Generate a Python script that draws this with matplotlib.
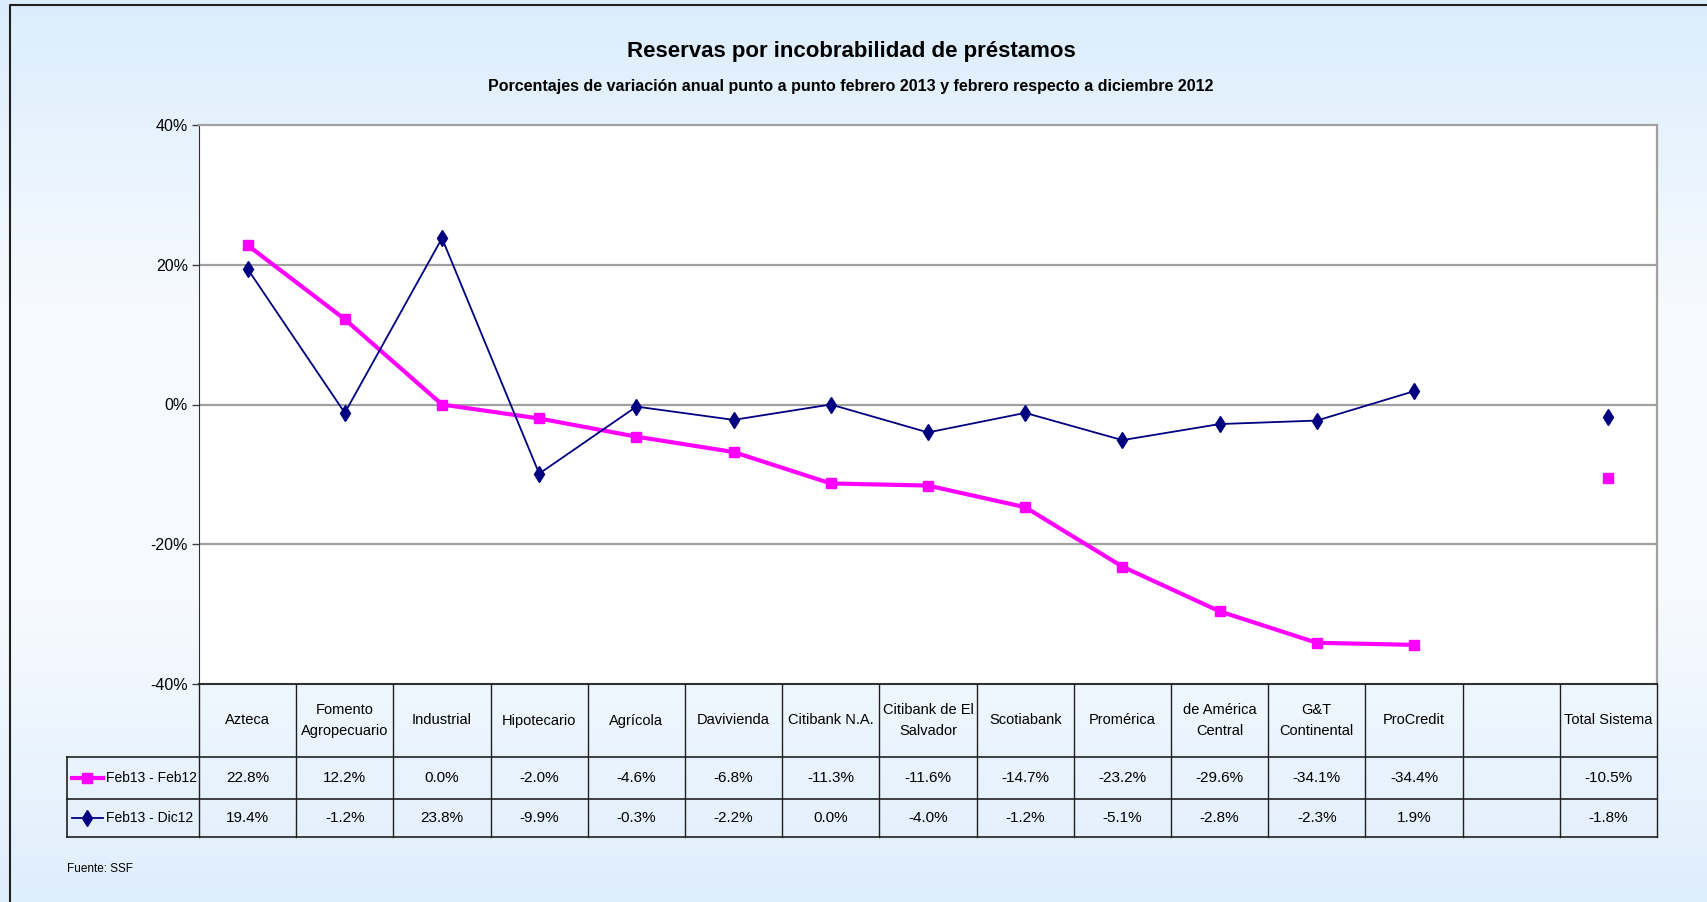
import matplotlib

matplotlib.use("Agg")
import matplotlib.pyplot as plt
import numpy as np
from matplotlib.colors import LinearSegmentedColormap
from matplotlib.lines import Line2D

plt.rcParams["font.family"] = ["Liberation Sans Narrow", "Liberation Sans", "DejaVu Sans"]

# --- data ---
categories = ["Azteca", "Fomento\nAgropecuario", "Industrial", "Hipotecario", "Agrícola",
              "Davivienda", "Citibank N.A.", "Citibank de El\nSalvador", "Scotiabank",
              "Promérica", "de América\nCentral", "G&T\nContinental", "ProCredit", "",
              "Total Sistema"]
feb_feb = [22.8, 12.2, 0.0, -2.0, -4.6, -6.8, -11.3, -11.6, -14.7, -23.2, -29.6, -34.1,
           -34.4, np.nan, -10.5]
feb_dic = [19.4, -1.2, 23.8, -9.9, -0.3, -2.2, 0.0, -4.0, -1.2, -5.1, -2.8, -2.3,
           1.9, np.nan, -1.8]
series_names = ["Feb13 - Feb12", "Feb13 - Dic12"]
y_ticks = [-40, -20, 0, 20, 40]

PINK = "#FF00FF"
NAVY = "#000080"
W, H = 1707, 902

fig = plt.figure(figsize=(W / 100, H / 100), dpi=100)

# background gradient + frame
bg = fig.add_axes([0, 0, 1, 1], zorder=-5)
cmap = LinearSegmentedColormap.from_list("bg", ["#DBEDFC", "#F6FAFF", "#F6FAFF", "#DFEEFC"])
bg.imshow(np.linspace(0, 1, 256).reshape(-1, 1), aspect="auto", cmap=cmap,
          extent=[0, 1, 0, 1])
bg.plot([10 / W, 10 / W, 1.01], [-0.01, 1 - 5 / H, 1 - 5 / H], color="#202020", lw=1.5)
bg.set_xlim(0, 1)
bg.set_ylim(0, 1)
bg.axis("off")


def px_rect(x0, y0, x1, y1):
    return [x0 / W, 1 - y1 / H, (x1 - x0) / W, (y1 - y0) / H]


# --- main chart ---
ax = fig.add_axes(px_rect(199, 125, 1657, 684))
ax.set_facecolor("white")
n = len(categories)
x = np.arange(n)
ax.plot(x, feb_feb, color=PINK, lw=3, marker="s", ms=7, mec=PINK, zorder=4)
ax.plot(x, feb_dic, color=NAVY, lw=1.3, marker="d", ms=8, mec=NAVY, zorder=5)
ax.set_xlim(-0.5, n - 0.5)
ax.set_ylim(-40, 40)
ax.set_yticks(y_ticks)
ax.set_yticklabels([f"{v}%" for v in y_ticks], fontsize=11.5)
ax.set_xticks([])
ax.tick_params(axis="y", length=5, width=1, color="#404040", pad=3)
for v in [-20, 0, 20]:
    ax.axhline(v, color="#A0A0A0", lw=1.6, zorder=1)
ax.spines["top"].set_color("#A0A0A0")
ax.spines["right"].set_color("#A0A0A0")
ax.spines["top"].set_linewidth(1.6)
ax.spines["right"].set_linewidth(1.6)
ax.spines["left"].set_color("#303030")
ax.spines["bottom"].set_color("#303030")
ax.spines["bottom"].set_linewidth(1.5)

fig.text(851 / W, 1 - 51 / H, "Reservas por incobrabilidad de préstamos",
         ha="center", va="center", fontsize=16, fontweight="bold")
fig.text(851 / W, 1 - 86 / H,
         "Porcentajes de variación anual punto a punto febrero 2013 y febrero respecto a diciembre 2012",
         ha="center", va="center", fontsize=11.5, fontweight="bold")

# --- data table under the chart ---
col_px = (1657 - 199) / n
label_w = (199 - 67) / col_px
tb = fig.add_axes(px_rect(67, 684, 1657, 837))
tb.set_xlim(-0.5 - label_w, n - 0.5)
tb.set_ylim(0, 153)
tb.axis("off")
tb.patch.set_visible(False)
rows = [0, 38, 80, 153]
lc = "#202020"
for yy in rows[:3]:
    tb.plot([-0.5 - label_w, n - 0.5], [yy, yy], color=lc, lw=1.2, clip_on=False)
tb.plot([-0.5 - label_w] * 2, [0, 80], color=lc, lw=1.2, clip_on=False)
for k in range(n + 1):
    tb.plot([k - 0.5] * 2, [0, 153], color=lc, lw=1.0, clip_on=False)

for i, cat in enumerate(categories):
    tb.text(i, (rows[2] + rows[3]) / 2, cat, ha="center", va="center", fontsize=10.5,
            linespacing=1.7)
for vals, (y0, y1) in [(feb_feb, (rows[1], rows[2])), (feb_dic, (rows[0], rows[1]))]:
    for i, v in enumerate(vals):
        if np.isnan(v):
            continue
        tb.text(i, (y0 + y1) / 2, f"{v:.1f}%", ha="center", va="center", fontsize=11)

# legend keys in the row labels
lx0 = -0.5 - label_w + 0.05
for name, color, lw, mk, ms, (y0, y1) in [
    (series_names[0], PINK, 3, "s", 7, (rows[1], rows[2])),
    (series_names[1], NAVY, 1.3, "d", 8, (rows[0], rows[1])),
]:
    yc = (y0 + y1) / 2
    tb.add_line(Line2D([lx0, lx0 + 0.32], [yc, yc], color=color, lw=lw))
    tb.plot([lx0 + 0.16], [yc], marker=mk, ms=ms, color=color)
    tb.text(lx0 + 0.35, yc, name, ha="left", va="center", fontsize=10)

fig.text(67 / W, 1 - 869 / H, "Fuente: SSF", ha="left", va="center", fontsize=8.5)

fig.savefig("out.png", dpi=100)
